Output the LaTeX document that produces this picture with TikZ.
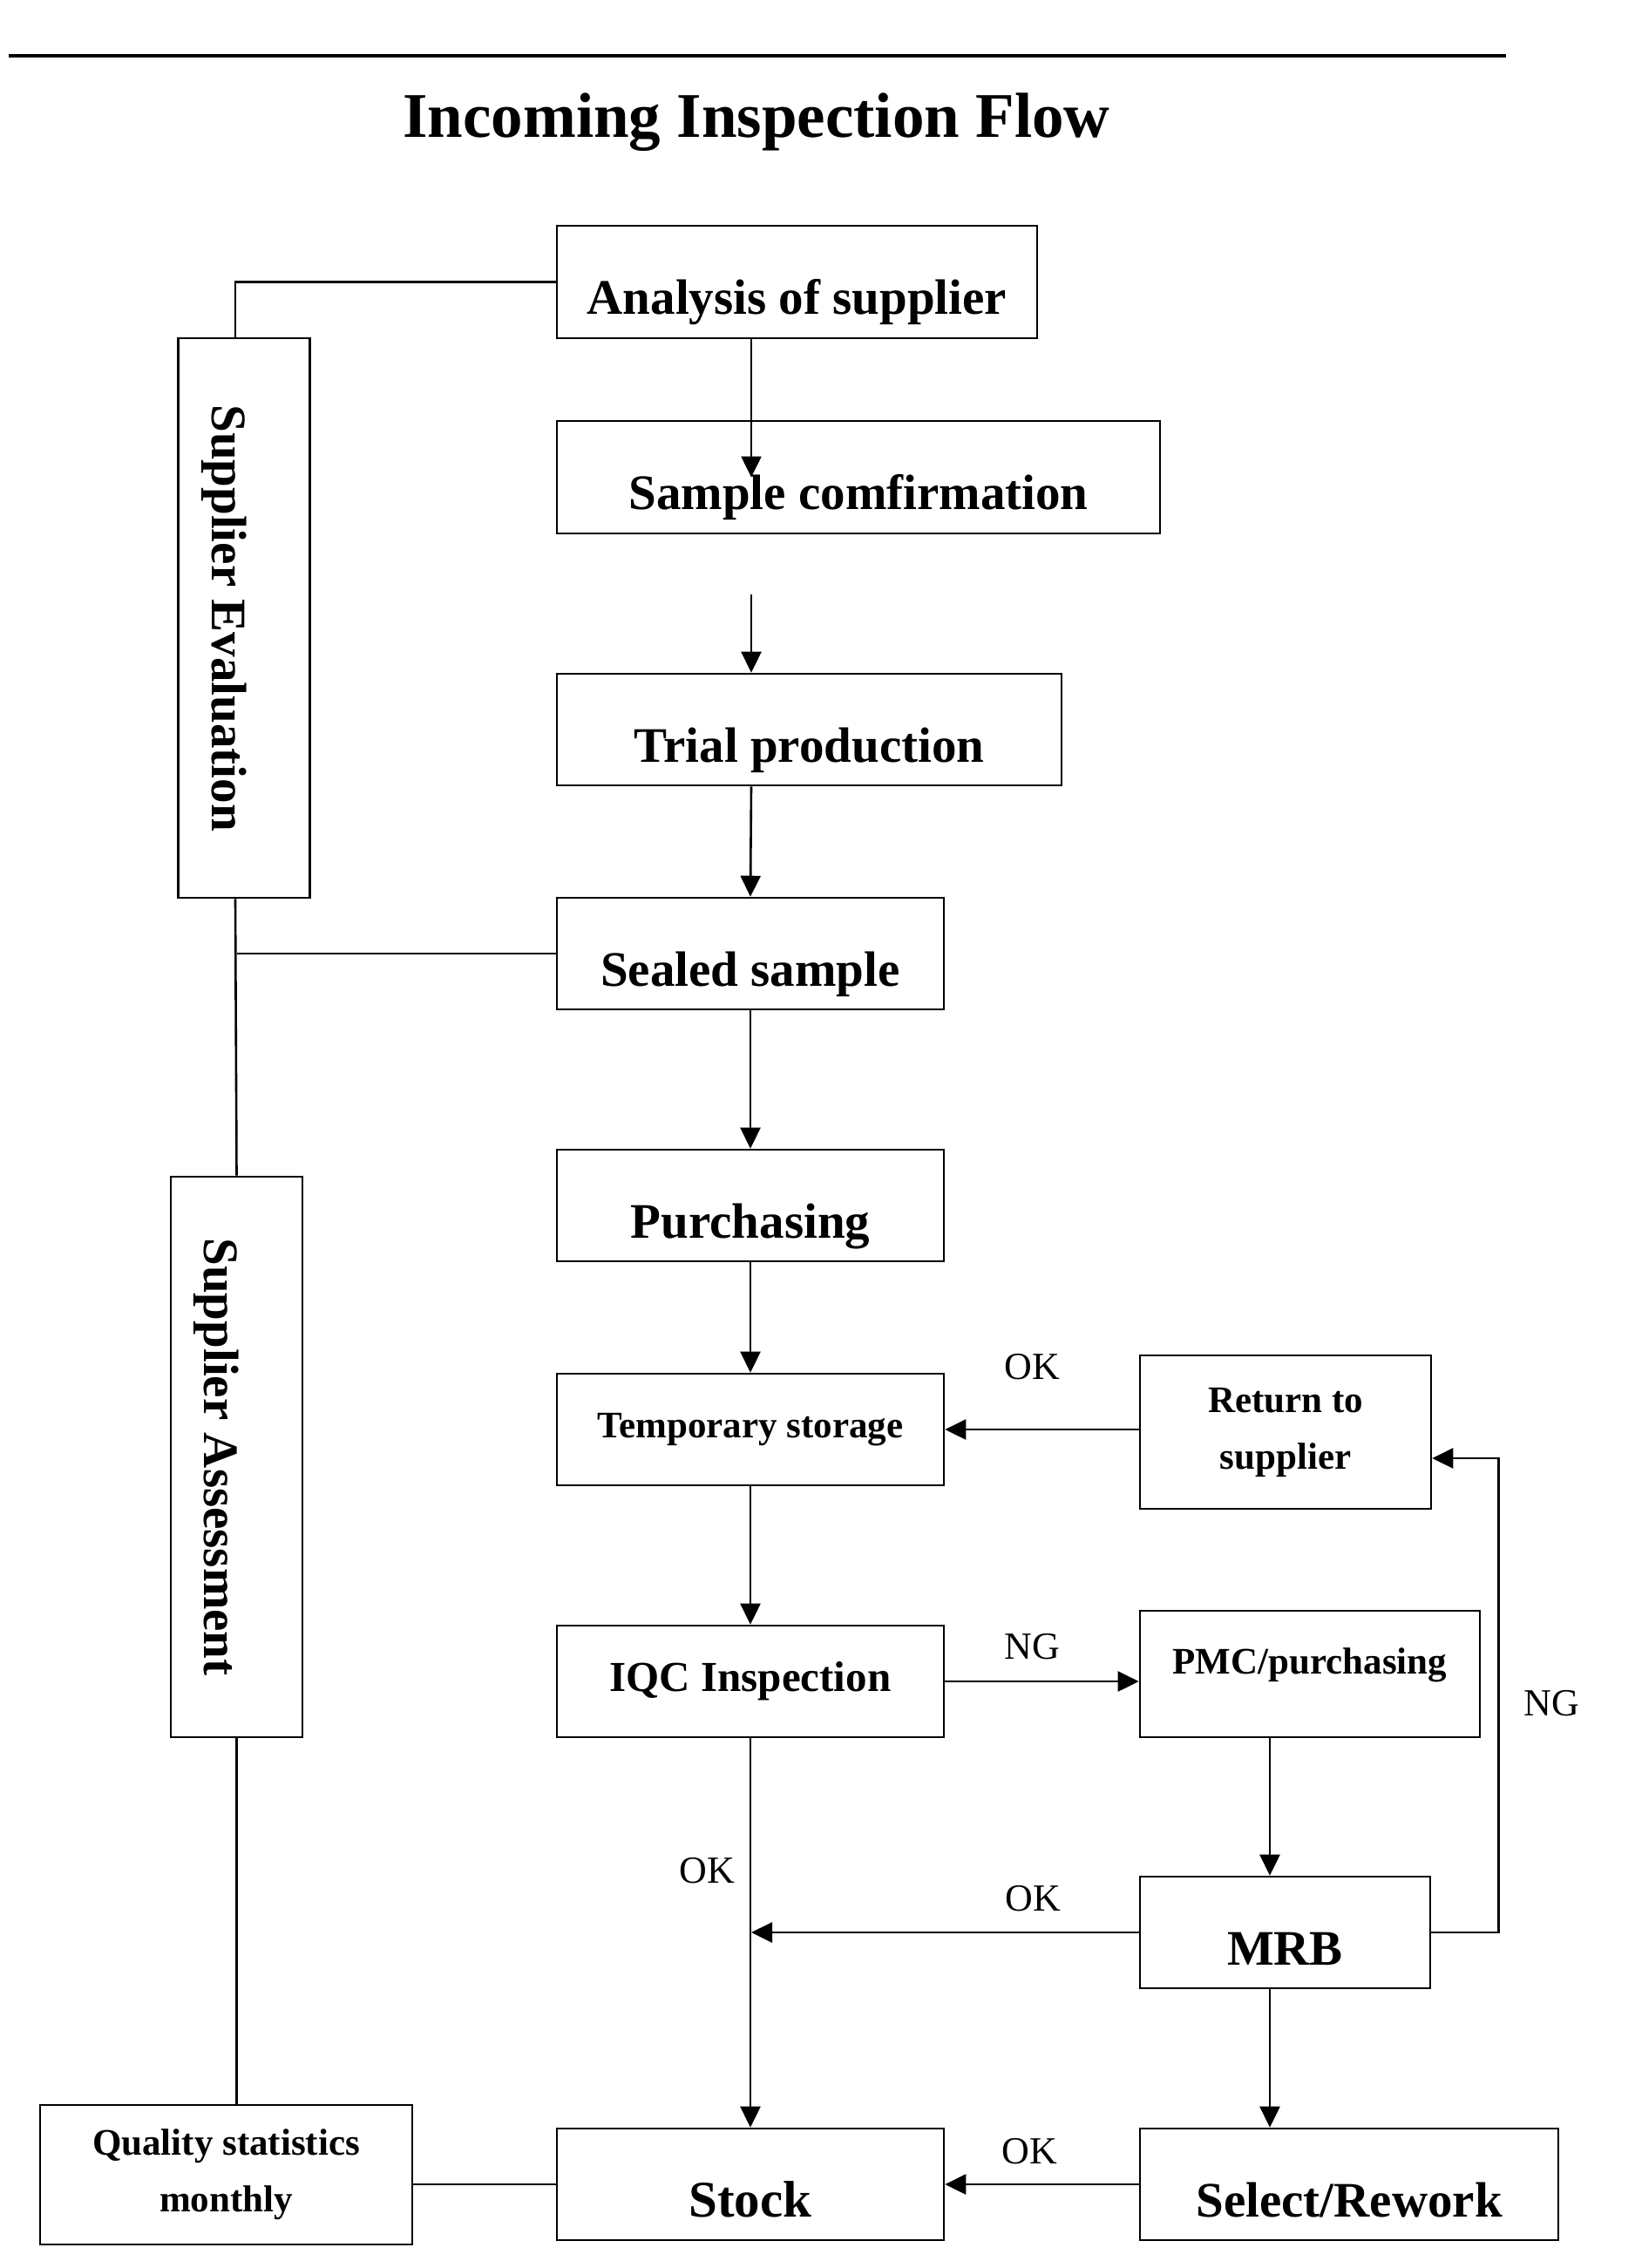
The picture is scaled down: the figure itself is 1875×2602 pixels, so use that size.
\documentclass[tikz,border=0pt]{standalone}
\usepackage{fontspec}
\setmainfont{Liberation Serif}
\usetikzlibrary{arrows.meta}

\begin{document}
\begin{tikzpicture}[x = .5pt, y = -.5pt]
		\tikzstyle{box} = [draw, line width = 1.3pt, inner sep = 0pt, font = \bfseries\fontsize{28.5}{30}\selectfont, text height = 37pt, text depth = 0pt]
		\tikzstyle{sbox} = [draw, line width = 1.3pt, inner sep = 0pt, align = center, font = \bfseries\fontsize{21.5}{32.5}\selectfont]
		\tikzstyle{lbl} = [font = \fontsize{22}{24}\selectfont, anchor = base]
		\tikzstyle{arr} = [line width = 1.3pt, -{Triangle[length = 12pt, width = 11.5pt]}]
		\tikzstyle{con} = [line width = 1.3pt]

		\useasboundingbox (0,0) rectangle (1875,2602);

		% heading
		\draw [line width = 1.7pt] (10,64) -- (1728,64);
		\node [font = \bfseries\fontsize{36.5}{40}\selectfont, anchor = base] (title) at (868,157) {Incoming Inspection Flow};

		% main column
		\node [box, minimum width = 275.5pt, minimum height = 64.5pt] (analysis) at (914.5,323.5) {Analysis of supplier};
		\node [box, minimum width = 346pt, minimum height = 64.5pt] (sample) at (985,547.5) {Sample comfirmation};
		\node [box, minimum width = 289.5pt, minimum height = 64pt] (trial) at (928.5,837) {Trial production};
		\node [box, minimum width = 222pt, minimum height = 64pt] (sealed) at (861,1094) {Sealed sample};
		\node [box, minimum width = 222pt, minimum height = 64pt] (purch) at (861,1383) {Purchasing};
		\node [sbox, minimum width = 222pt, minimum height = 64pt] (temp) at (861,1640) {Temporary storage};
		\node [sbox, minimum width = 222pt, minimum height = 64pt, font = \bfseries\fontsize{24.5}{26}\selectfont] (iqc) at (861,1929) {IQC Inspection};
		\node [box, minimum width = 222pt, minimum height = 64pt, font = \bfseries\fontsize{29.5}{31}\selectfont] (stock) at (861,2506) {Stock};

		% right column
		\node [sbox, minimum width = 167pt, minimum height = 88pt] (ret) at (1475,1643) {Return to\\supplier};
		\node [sbox, minimum width = 195pt, minimum height = 72.5pt, text height = 14pt, text depth = 14pt] (pmc) at (1503,1920.5) {PMC/purchasing};
		\node [box, minimum width = 166.5pt, minimum height = 64pt] (mrb) at (1474.5,2217) {MRB};
		\node [box, minimum width = 240pt, minimum height = 64pt] (rework) at (1548,2506) {Select/Rework};

		% left column (turned boxes: west = top, east = bottom)
		\node [box, rotate = -90, minimum width = 321pt, minimum height = 75.5pt] (seval) at (280,709) {Supplier Evaluation};
		\node [box, rotate = -90, minimum width = 321.5pt, minimum height = 75.5pt] (sassess) at (271.5,1671.5) {Supplier Assessment};
		\node [sbox, minimum width = 213.5pt, minimum height = 80pt] (qstat) at (259.5,2495) {Quality statistics\\monthly};

		\coordinate (col) at (862,0); % main flow line
		\coordinate (col2) at (1457,0); % pmc / mrb line
		\coordinate (gap) at (862,682); % arrow below sample box

		% main flow
		\draw [arr] (analysis.south -| col) -- (sample.center -| col);
		\draw [arr] (gap) -- (trial.north -| col);
		\draw [arr] (trial.south -| col) -- (sealed.north);
		\draw [arr] (sealed) -- (purch);
		\draw [arr] (purch) -- (temp);
		\draw [arr] (temp) -- (iqc);
		\draw [arr] (iqc) -- (stock);

		% rejects
		\draw [arr] (iqc.east) -- (iqc.east -| pmc.west);
		\draw [arr] (pmc.south -| col2) -- (mrb.north -| col2);
		\draw [arr] (mrb.south -| col2) -- (rework.north -| col2);
		\draw [arr] (mrb.west) -- (mrb.west -| col);
		\draw [arr] (mrb.east) -- ++(77,0) |- ([yshift = -15pt]ret.east);
		\draw [arr] (ret.west |- temp.east) -- (temp.east);
		\draw [arr] (rework) -- (stock);

		% supplier side
		\draw [con] (analysis.west) -| ([xshift = -5pt]seval.west);
		\draw [con] ([xshift = -5pt]seval.east) -- (sassess.west);
		\draw [con] (sealed.west) -- (sealed.west -| sassess.west);
		\draw [con] (sassess.east) -- (sassess.east |- qstat.north);
		\draw [con] (stock.west) -- (stock.west -| qstat.east);

		% labels
		\node [lbl] (ok1) at (1184,1582) {OK};
		\node [lbl] (ng1) at (1184,1903) {NG};
		\node [lbl] (ng2) at (1780,1968) {NG};
		\node [lbl] (ok2) at (811,2160) {OK};
		\node [lbl] (ok3) at (1185,2192) {OK};
		\node [lbl] (ok4) at (1181,2482) {OK};
	\end{tikzpicture}
\end{document}
